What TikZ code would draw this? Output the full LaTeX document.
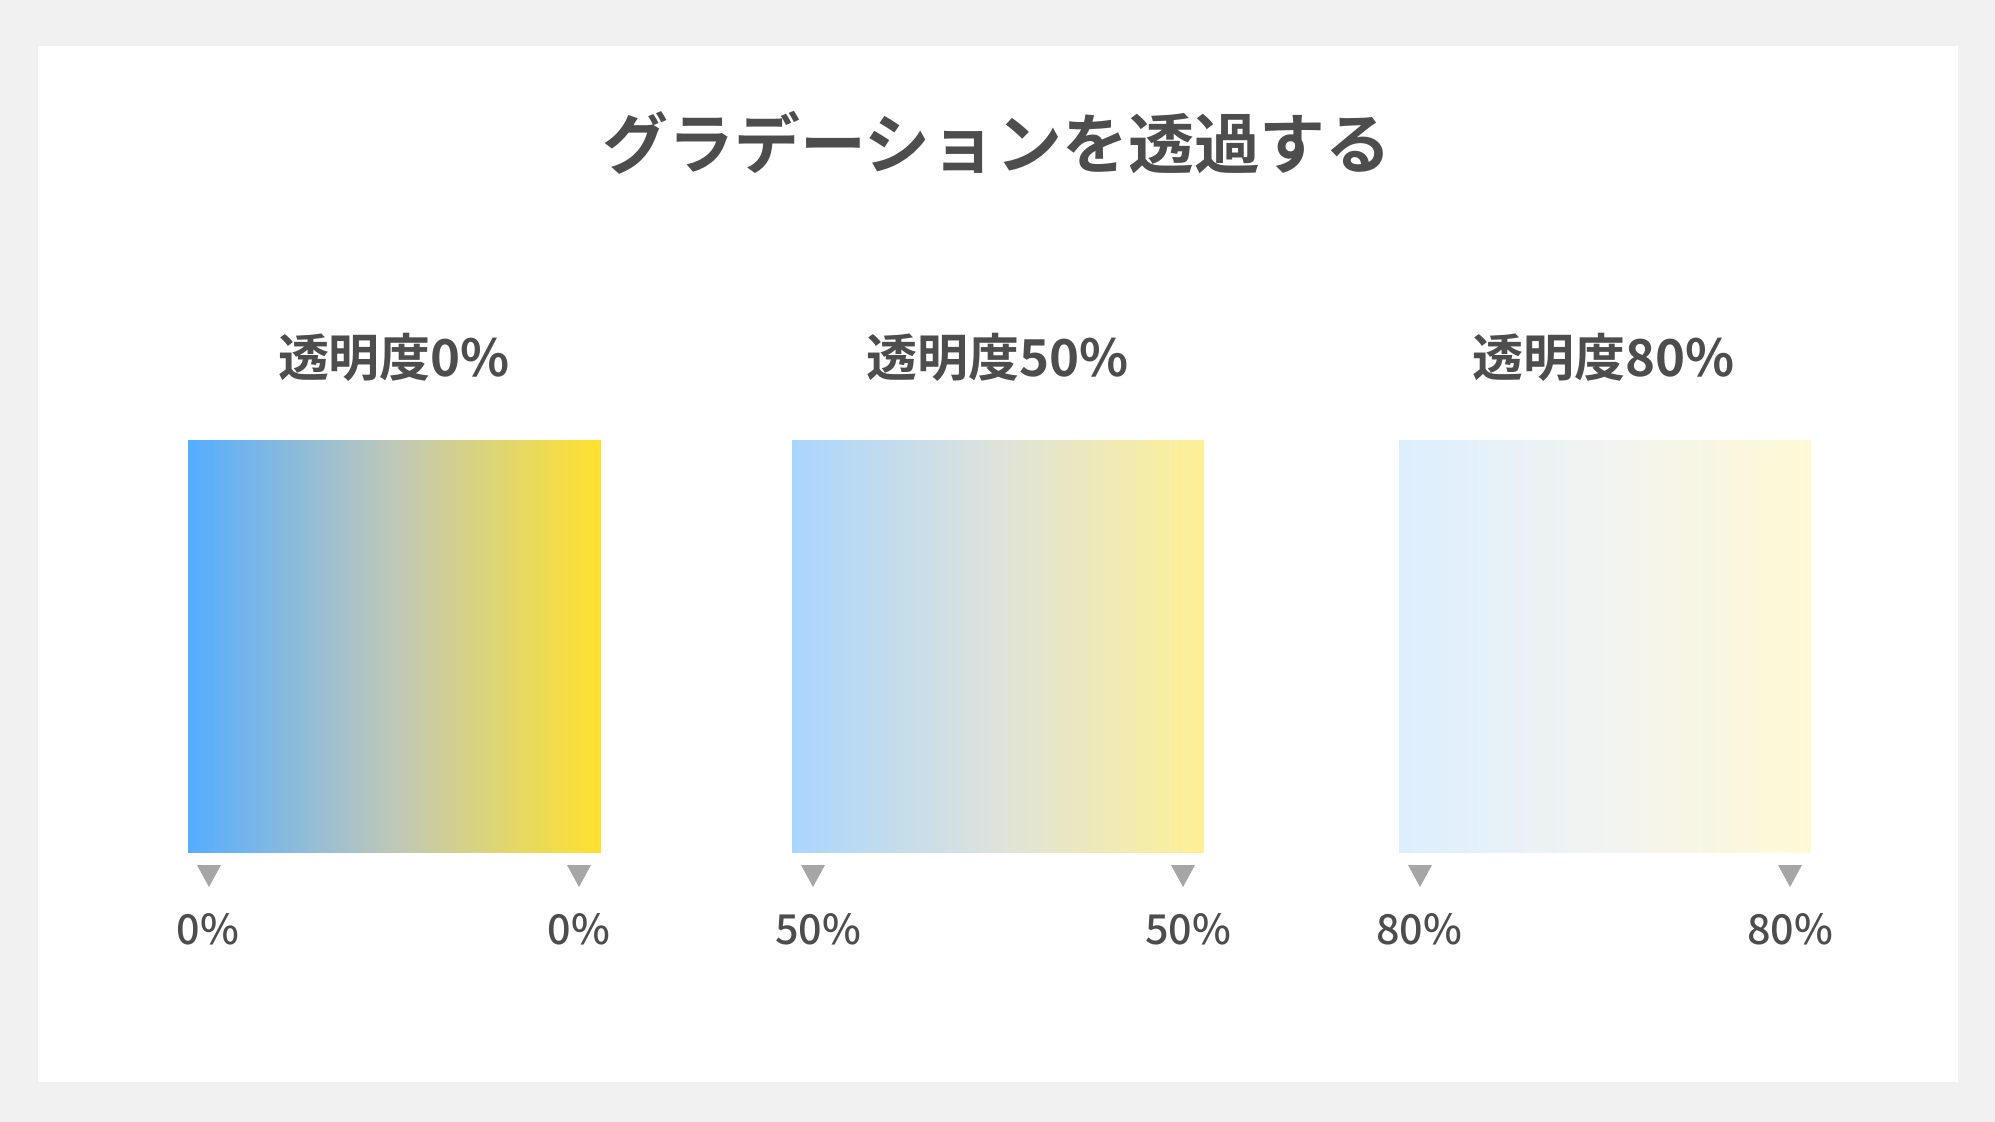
\documentclass[tikz,border=0pt]{standalone}
\usepackage{fontspec}
\usepackage{xcolor}
\setmainfont{Noto Sans CJK JP}[BoldFont={Noto Sans CJK JP Bold}]
\newfontfamily\pctfont{Noto Sans CJK JP Medium}
\definecolor{bggray}{HTML}{F1F1F1}
\definecolor{txtgray}{HTML}{4D4D4D}
\definecolor{markgray}{HTML}{A6A6A6}
\definecolor{gradblue}{HTML}{55ADFF}
\definecolor{gradmid}{HTML}{BEC8B8}
\definecolor{gradyellow}{HTML}{FFE22E}

\begin{document}
\begin{tikzpicture}[x=0.02cm,y=-0.02cm,
    title/.style={text=txtgray,font=\fontsize{37.5}{42}\selectfont\bfseries},
    subtitle/.style={text=txtgray,font=\fontsize{29}{34}\selectfont\bfseries},
    pct/.style={text=txtgray,font=\fontsize{23.5}{28}\pctfont},
    grad/.style={left color=gradblue,right color=gradyellow,middle color=gradmid},
    marker/.style={fill=markgray}]
            \useasboundingbox (0,0) rectangle (1995,1122);
            \fill[bggray] (0,0) rectangle (1995,1122);
            \fill[white] (38,46) rectangle (1958,1082);

            \node[title] (head) at (997,143) {グラデーションを透過する};

            % 0%
            \node[subtitle] (sub0) at (394,357) {透明度0\%};
            \shade[grad] (188,440) rectangle (601,852);
            \fill[marker] (197,865) -- (221,865) -- (209,887) -- cycle;
            \fill[marker] (567,865) -- (591,865) -- (579,887) -- cycle;
            \node[pct] (l0) at (208,929) {0\%};
            \node[pct] (r0) at (579,929) {0\%};

            % 50%
            \node[subtitle] (sub50) at (998,357) {透明度50\%};
            \shade[grad,opacity=0.5] (792,440) rectangle (1204,852);
            \fill[marker] (801,865) -- (825,865) -- (813,887) -- cycle;
            \fill[marker] (1171,865) -- (1195,865) -- (1183,887) -- cycle;
            \node[pct] (l50) at (818,929) {50\%};
            \node[pct] (r50) at (1188,929) {50\%};

            % 80%
            \node[subtitle] (sub80) at (1604,357) {透明度80\%};
            \shade[grad,opacity=0.2] (1399,440) rectangle (1811,852);
            \fill[marker] (1408,865) -- (1432,865) -- (1420,887) -- cycle;
            \fill[marker] (1778,865) -- (1802,865) -- (1790,887) -- cycle;
            \node[pct] (l80) at (1419,929) {80\%};
            \node[pct] (r80) at (1790,929) {80\%};
        \end{tikzpicture}
\end{document}
